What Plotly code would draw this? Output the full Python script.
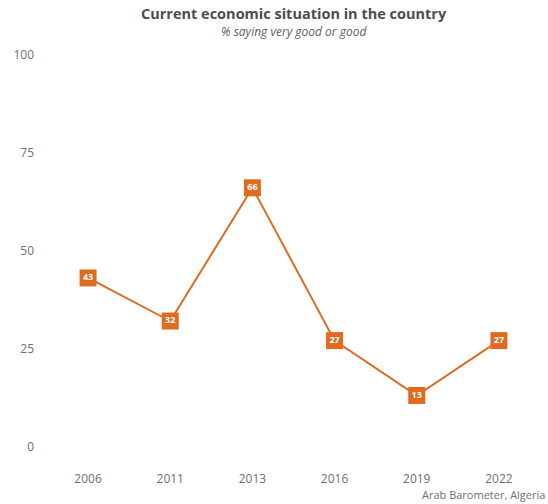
import plotly.graph_objects as go

# Survey waves and share of respondents rating the economy very good / good
years = ["2006", "2011", "2013", "2016", "2019", "2022"]
values = [43, 32, 66, 27, 13, 27]
y_ticks = [0, 25, 50, 75, 100]

orange = "#E06A1F"
grey = "#707070"
font_family = "Open Sans, Lato, sans-serif"

W, H = 548, 504
M_L, M_R, M_T, M_B = 47, 8, 35, 38
plot_h = H - M_T - M_B


def paper_y(px):
    """Pixel row (from the top of the page) to paper coordinate."""
    return (H - M_B - px) / plot_h


fig = go.Figure()
fig.add_trace(go.Scatter(
    x=years,
    y=values,
    mode="lines+markers+text",
    line=dict(color=orange, width=2),
    marker=dict(symbol="square", size=17, color=orange, line=dict(width=0)),
    text=[str(v) for v in values],
    textposition="middle center",
    textfont=dict(color="white", size=9, family=font_family, weight="bold"),
    cliponaxis=False,
    hoverinfo="x+y",
))

fig.update_layout(
    width=W,
    height=H,
    margin=dict(l=M_L, r=M_R, t=M_T, b=M_B),
    paper_bgcolor="white",
    plot_bgcolor="white",
    showlegend=False,
    font=dict(family=font_family, color=grey, size=12),
    xaxis=dict(
        type="category",
        range=[-0.5, 5.5],
        showgrid=False,
        zeroline=False,
        showline=False,
        ticks="",
        ticklabelstandoff=4,
        tickfont=dict(size=12, color=grey),
    ),
    yaxis=dict(
        range=[-5, 105],
        tickvals=y_ticks,
        showgrid=False,
        zeroline=False,
        showline=False,
        ticks="",
        ticklabelstandoff=12,
        tickfont=dict(size=12, color=grey),
    ),
    annotations=[
        dict(
            text="<b>Current economic situation in the country</b>",
            x=0.5, y=paper_y(14), xref="paper", yref="paper", yanchor="middle",
            borderpad=0,
            showarrow=False, font=dict(size=14.5, color="#4d4d4d"),
        ),
        dict(
            text="<i>% saying very good or good</i>",
            x=0.5, y=paper_y(32), xref="paper", yref="paper", yanchor="middle",
            borderpad=0,
            showarrow=False, font=dict(size=12, color="#606060"),
        ),
        dict(
            text="Arab Barometer, Algeria",
            x=1.0, y=paper_y(494), xref="paper", yref="paper",
            xanchor="right", yanchor="middle", xshift=7,
            showarrow=False, font=dict(size=11, color=grey),
        ),
    ],
)

fig.write_html("out.html")
